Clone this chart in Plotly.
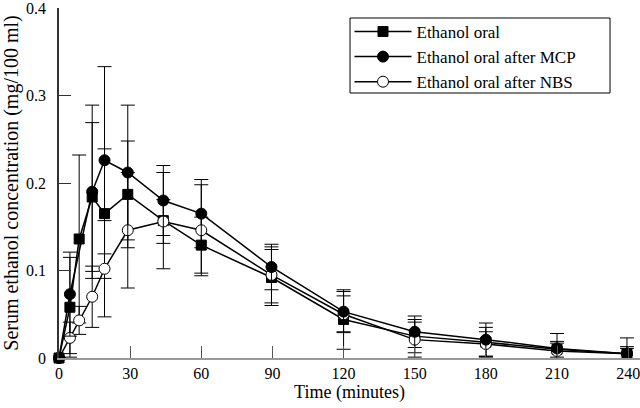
import plotly.graph_objects as go

# Data
time_all = [0, 4.6, 8.5, 14, 19.2, 29, 44, 60, 89.6, 120, 150, 180, 210, 239.5]
time_mcp = [0, 4.6, 14, 19.2, 29, 44, 60, 89.6, 120, 150, 180, 210, 239.5]

oral = [0, 0.058, 0.136, 0.184, 0.165, 0.187, 0.157, 0.129, 0.092, 0.044, 0.025, 0.018, 0.010, 0.005]
oral_err = [0, 0.057, 0.096, 0.085, 0.074, 0.061, 0.055, 0.032, 0.032, 0.034, 0.019, 0.017, 0.009, 0.008]

mcp = [0, 0.073, 0.190, 0.226, 0.212, 0.180, 0.165, 0.104, 0.053, 0.030, 0.021, 0.011, 0.005]
mcp_err = [0, 0.048, 0.099, 0.107, 0.077, 0.040, 0.039, 0.026, 0.023, 0.018, 0.019, 0.017, 0.018]

nbs = [0, 0.023, 0.043, 0.070, 0.102, 0.146, 0.156, 0.146, 0.095, 0.050, 0.021, 0.016, 0.008, 0.005]
nbs_err = [0, 0.018, 0.016, 0.035, 0.055, 0.066, 0.025, 0.052, 0.032, 0.021, 0.020, 0.014, 0.009, 0.006]

x_ticks = [0, 30, 60, 90, 120, 150, 180, 210, 240]
y_ticks = [0, 0.1, 0.2, 0.3, 0.4]

FONT = "Liberation Serif, Times New Roman, serif"

def err(arr):
    return dict(type="data", array=arr, visible=True, color="black", thickness=1, width=7)

fig = go.Figure()
fig.add_trace(go.Scatter(
    x=time_all, y=oral, name="Ethanol oral", mode="lines+markers",
    line=dict(color="black", width=1.5),
    marker=dict(symbol="square", size=10, color="black", line=dict(color="black", width=1)),
    error_y=err(oral_err), cliponaxis=False, legendrank=1))
fig.add_trace(go.Scatter(
    x=time_all, y=nbs, name="Ethanol oral after NBS", mode="lines+markers",
    line=dict(color="black", width=1.5),
    marker=dict(symbol="circle", size=11, color="white", line=dict(color="black", width=1)),
    error_y=err(nbs_err), cliponaxis=False, legendrank=3))
fig.add_trace(go.Scatter(
    x=time_mcp, y=mcp, name="Ethanol oral after MCP", mode="lines+markers",
    line=dict(color="black", width=1.5),
    marker=dict(symbol="circle", size=11, color="black", line=dict(color="black", width=1)),
    error_y=err(mcp_err), cliponaxis=False, legendrank=2))

fig.update_layout(
    width=640, height=408,
    margin=dict(l=59, r=0, t=8, b=50),
    paper_bgcolor="white", plot_bgcolor="white",
    font=dict(family=FONT, size=16, color="black"),
    showlegend=True,
    legend=dict(x=0.5, y=0.983, xanchor="left", yanchor="top",
                bgcolor="rgba(0,0,0,0)", borderwidth=0,
                font=dict(family=FONT, size=17, color="black"),
                itemwidth=57, tracegroupgap=0),
    shapes=[dict(type="rect", xref="paper", yref="paper",
                 x0=0.5009, x1=0.9484, y0=0.7571, y1=0.9714,
                 line=dict(color="black", width=1), fillcolor="white", layer="above")],
    xaxis=dict(range=[0, 245], tickvals=x_ticks, ticktext=[str(v) for v in x_ticks],
               ticks="inside", ticklen=12, tickcolor="#555", tickwidth=1,
               showline=True, linecolor="#999", linewidth=2, showgrid=False, zeroline=False,
               automargin=False, ticklabeloverflow="allow",
               title=dict(text="Time (minutes)", font=dict(family=FONT, size=18), standoff=2),
               tickfont=dict(family=FONT, size=16)),
    yaxis=dict(range=[0, 0.4], tickvals=y_ticks, ticktext=["0", "0.1", "0.2", "0.3", "0.4"],
               ticks="inside", ticklen=12, tickcolor="#333", tickwidth=1,
               showline=True, linecolor="#333", linewidth=1.5, showgrid=False, zeroline=False,
               ticklabelstandoff=8, automargin=False, ticklabeloverflow="allow",
               title=dict(text="Serum ethanol concentration (mg/100 ml)", font=dict(family=FONT, size=20), standoff=5),
               tickfont=dict(family=FONT, size=16)),
)

fig.write_html("out.html", config={"displayModeBar": False},
               post_script="document.body.style.margin='0';")
